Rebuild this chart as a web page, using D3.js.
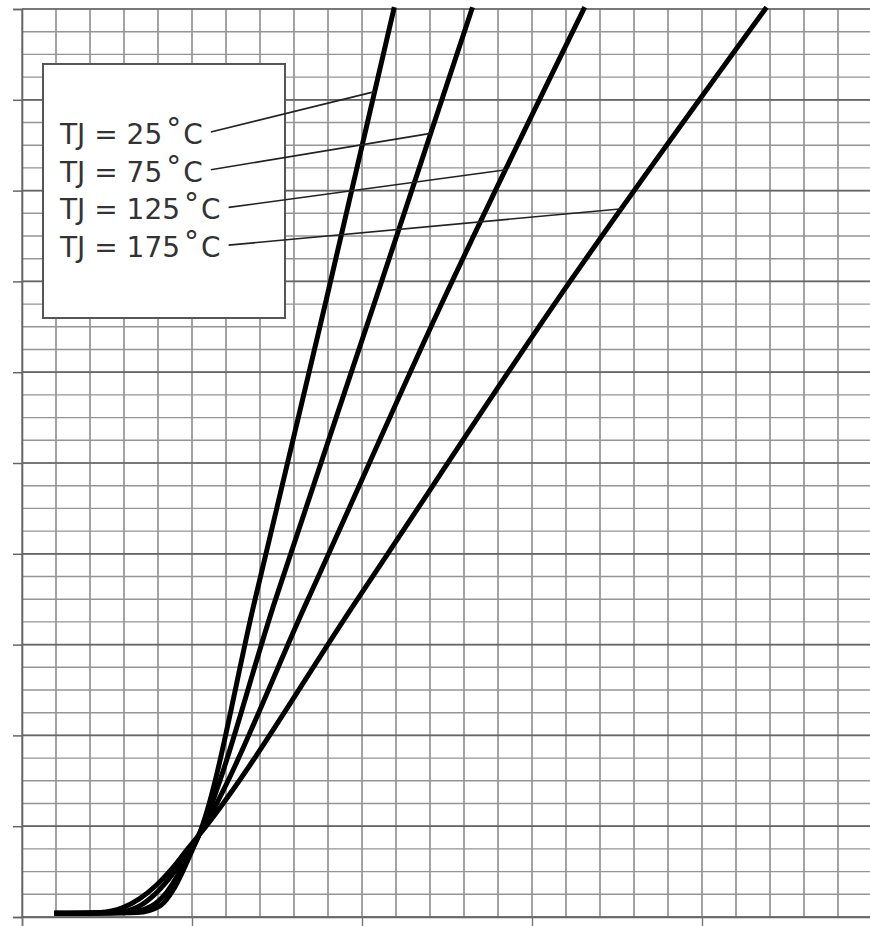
<!DOCTYPE html>
<html>
<head>
<meta charset="utf-8">
<script src="https://cdn.jsdelivr.net/npm/d3@7"></script>
<style>
  body { margin: 0; background: #fff; }
  svg { display: block; }
</style>
</head>
<body>
<div id="chart"></div>
<script>
// curve data (x, y in axis units; no tick labels are visible on the original)
const temps = ["25", "75", "125", "175"];
const tj25 = [[0.19,0.04],[0.68,0.05],[0.81,0.12],[0.89,0.30],[0.95,0.52],[1.0,0.73],[1.04,0.90],[1.37,3.49],[1.79,6.80],[2.19,10.02]];
const tj75 = [[0.19,0.04],[0.62,0.05],[0.76,0.12],[0.85,0.27],[0.92,0.47],[0.99,0.71],[1.04,0.90],[1.49,3.49],[2.08,6.80],[2.65,10.02]];
const tj125 = [[0.19,0.04],[0.55,0.05],[0.68,0.11],[0.77,0.23],[0.86,0.41],[0.95,0.64],[1.04,0.90],[1.68,3.49],[2.48,6.80],[3.31,10.02]];
const tj175 = [[0.19,0.04],[0.46,0.05],[0.59,0.10],[0.69,0.20],[0.79,0.35],[0.89,0.55],[0.97,0.74],[1.04,0.90],[1.97,3.49],[3.15,6.80],[4.38,10.02]];
const seriesList = [tj25, tj75, tj125, tj175];
// y value where each leader line meets its curve
const leaderY = [9.09, 8.63, 8.23, 7.80];

const xMajor = d3.range(0, 5.01, 1);
const xMinor = d3.range(0, 5.01, 0.2);
const yMajor = d3.range(0, 10.01, 1);
const yMinor = d3.range(0, 10.01, 0.25);

const W = 870, H = 926;
const margin = {top: 9, right: -2, bottom: 9, left: 22};
const width = W - margin.left - margin.right;
const height = H - margin.top - margin.bottom;

const svg = d3.select("#chart").append("svg")
    .attr("width", W).attr("height", H);
const g = svg.append("g")
    .attr("transform", "translate(" + margin.left + "," + margin.top + ")");

const x = d3.scaleLinear().domain([0, 5]).range([0, width]);
const y = d3.scaleLinear().domain([0, 10]).range([height, 0]);

// grid
g.selectAll(".vmin").data(xMinor).enter().append("line")
    .attr("x1", d => x(d)).attr("x2", d => x(d))
    .attr("y1", 0).attr("y2", height)
    .attr("stroke", "#858585").attr("stroke-width", 1.5);
g.selectAll(".hmin").data(yMinor).enter().append("line")
    .attr("x1", 0).attr("x2", width)
    .attr("y1", d => y(d)).attr("y2", d => y(d))
    .attr("stroke", "#959595").attr("stroke-width", 1.4);
g.selectAll(".hmaj").data(yMajor).enter().append("line")
    .attr("x1", 0).attr("x2", width)
    .attr("y1", d => y(d)).attr("y2", d => y(d))
    .attr("stroke", "#666").attr("stroke-width", 1.7);

// axes: only ticks, no labels
g.append("g")
    .attr("transform", "translate(0," + height + ")")
    .call(d3.axisBottom(x).tickValues(xMajor).tickSize(9).tickFormat(""))
    .call(a => a.select(".domain").attr("stroke", "#666").attr("stroke-width", 1.6))
    .call(a => a.selectAll(".tick line").attr("stroke", "#777").attr("stroke-width", 1.4));
g.append("g")
    .call(d3.axisLeft(y).tickValues(yMajor).tickSize(9).tickFormat(""))
    .call(a => a.select(".domain").attr("stroke", "#666").attr("stroke-width", 1.6))
    .call(a => a.selectAll(".tick line").attr("stroke", "#666").attr("stroke-width", 1.5));

// legend box
g.append("rect")
    .attr("x", 43 - margin.left).attr("y", 64 - margin.top)
    .attr("width", 242).attr("height", 254)
    .attr("fill", "#fff").attr("stroke", "#555").attr("stroke-width", 2);

// curves
const line = d3.line()
    .x(d => x(d[0])).y(d => y(d[1]))
    .curve(d3.curveMonotoneX);

g.selectAll(".curve").data(seriesList).enter().append("path")
    .attr("d", line)
    .attr("fill", "none")
    .attr("stroke", "#000")
    .attr("stroke-width", 5)
    .attr("stroke-linejoin", "round");

// point on a curve at a given y (straight upper part)
function xAt(series, yv) {
    for (let i = 1; i < series.length; i++) {
        let a = series[i - 1], b = series[i];
        if (yv >= a[1] && yv <= b[1]) {
            return a[0] + (b[0] - a[0]) * (yv - a[1]) / (b[1] - a[1]);
        }
    }
    return series[series.length - 1][0];
}

// labels + leader lines
temps.forEach((t, i) => {
    const base = 144 + i * 37.7 - margin.top;
    const txt = g.append("text")
        .attr("x", 60 - margin.left).attr("y", base)
        .attr("font-family", "DejaVu Sans, Verdana, sans-serif")
        .attr("font-size", 28)
        .attr("fill", "#333");
    txt.append("tspan").text("TJ = " + t);
    txt.append("tspan").attr("dx", 4).attr("dy", -5).attr("font-size", 30).text("\u00b0");
    txt.append("tspan").attr("dx", 2).attr("dy", 5).text("C");
    const bb = txt.node().getBBox();
    g.append("line")
        .attr("x1", bb.x + bb.width + 8).attr("y1", base - 12)
        .attr("x2", x(xAt(seriesList[i], leaderY[i]))).attr("y2", y(leaderY[i]))
        .attr("stroke", "#222").attr("stroke-width", 1.6);
});
</script>
</body>
</html>
